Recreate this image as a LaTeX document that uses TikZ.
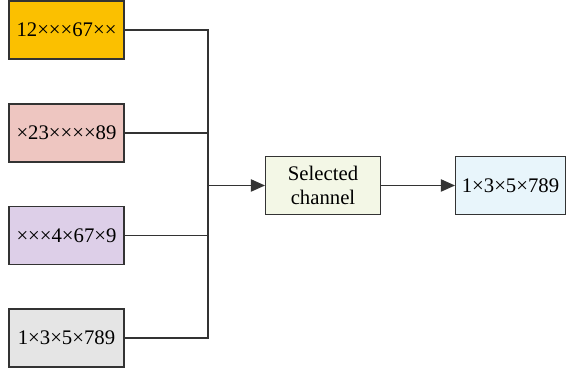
\documentclass[tikz,border=0pt]{standalone}
\usepackage{fontspec}
\setmainfont{Liberation Serif}
\usepackage{xcolor}
\usetikzlibrary{arrows.meta}
\definecolor{SeqOrange}{HTML}{FBC000}
\definecolor{SeqPink}{HTML}{EEC6C1}
\definecolor{SeqLilac}{HTML}{DDCFE8}
\definecolor{SeqGrey}{HTML}{E5E5E5}
\definecolor{SelGreen}{HTML}{F3F7E6}
\definecolor{OutBlue}{HTML}{E8F5FB}
\colorlet{BoxLine}{black!80}

\begin{document}
\begin{tikzpicture}[
    font = \fontsize{11.8}{14}\selectfont,
]
                    \useasboundingbox (0, 0) rectangle (11.32, 7.46);

                    \coordinate (J) at (4.16, 3.75);

                    \begin{scope}[
                        every node/.style = {
                            shape        = rectangle,
                            draw         = BoxLine,
                            line width   = 0.6pt,
                            inner sep    = 0pt,
                            minimum width  = 2.3cm,
                            minimum height = 1.16cm,
                            align        = center,
                        }
                    ]
                        \node (seqA) at (1.33, 6.86) [fill = SeqOrange] {12×××67××};
                        \node (seqB) at (1.33, 4.80) [fill = SeqPink  ] {×23××××89};
                        \node (seqC) at (1.33, 2.75) [fill = SeqLilac ] {×××4×67×9};
                        \node (seqD) at (1.33, 0.70) [fill = SeqGrey  ] {1×3×5×789};

                        \node (sel) at (6.46, 3.75) [fill = SelGreen] {Selected\\channel};
                        \node (out) at (10.21, 3.75) [fill = OutBlue, minimum width = 2.2cm] {1×3×5×789};
                    \end{scope}

                    \begin{scope}[line width = 0.6pt, draw = BoxLine]
                        \draw (seqA.east) -| (J);
                        \draw (seqD.east) -| (J);
                        \draw (seqB.east) -- (seqB.east -| J);
                        \draw (seqC.east) -- (seqC.east -| J);

                        \draw[-{Triangle[length = 8pt, width = 7pt]}] (J) -- (sel);
                        \draw[-{Triangle[length = 8pt, width = 7pt]}] (sel) -- (out);
                    \end{scope}
                \end{tikzpicture}
\end{document}
